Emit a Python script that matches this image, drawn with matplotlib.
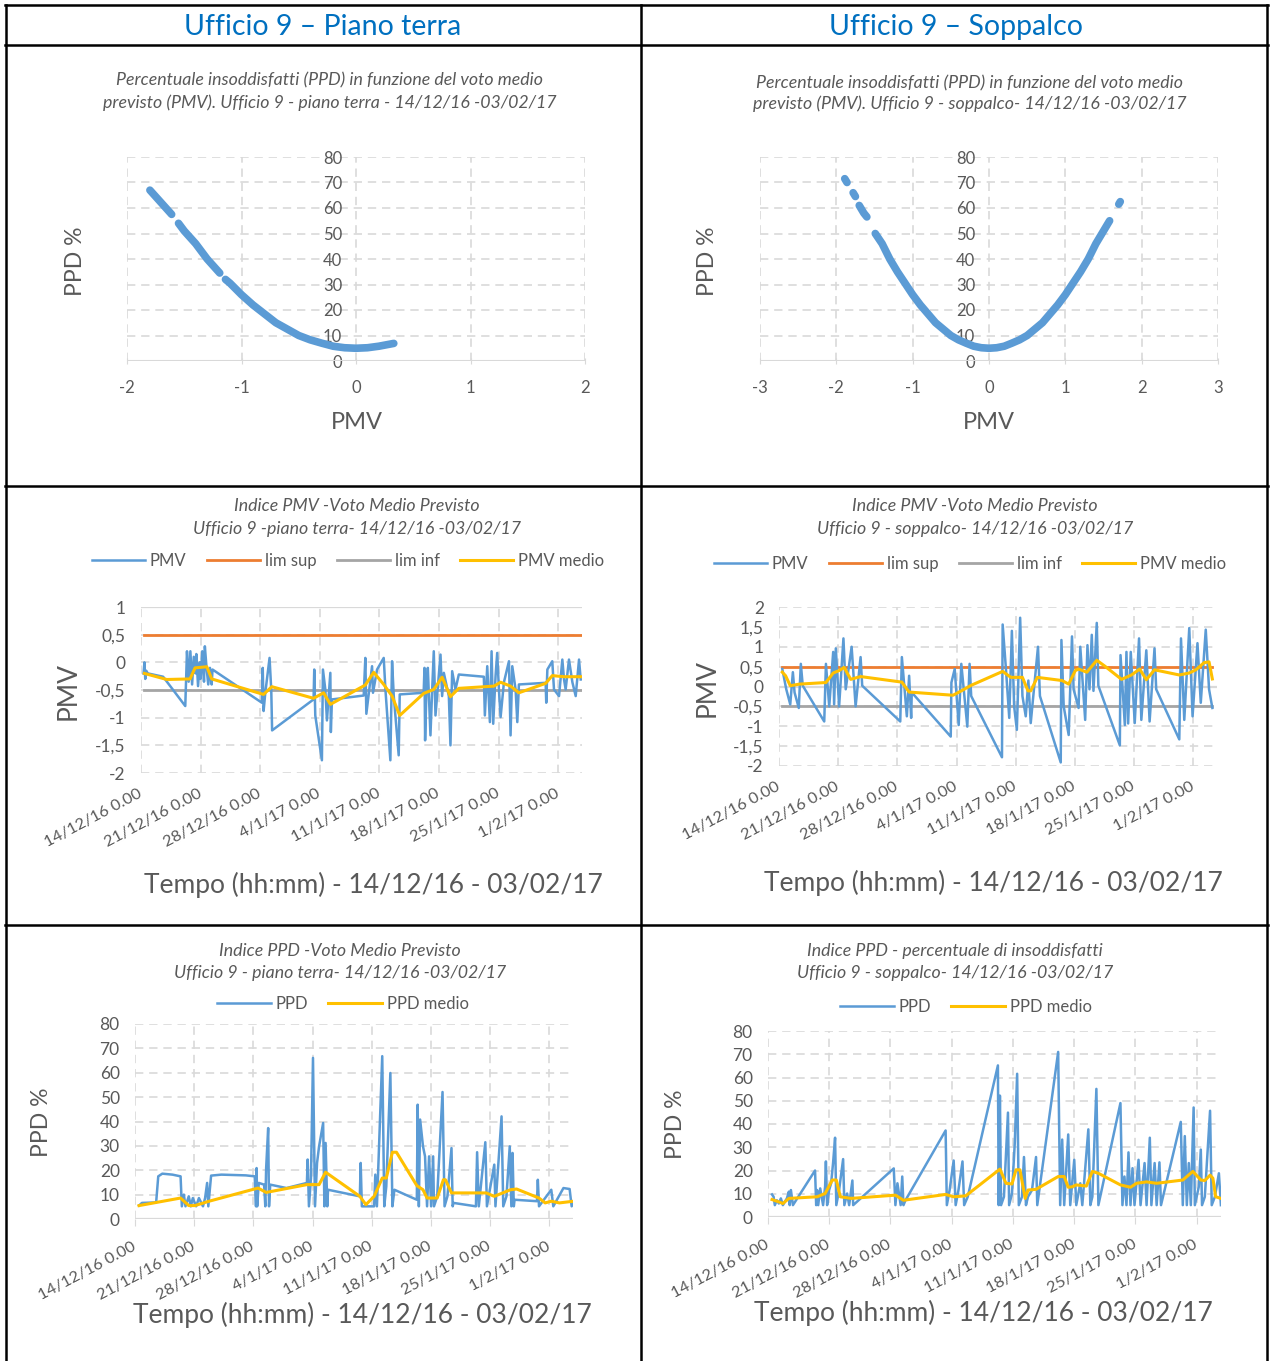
import numpy as np
import matplotlib
matplotlib.use('Agg')
import matplotlib.pyplot as plt
from matplotlib.lines import Line2D

plt.rcParams['font.family'] = ['Lato', 'DejaVu Sans']
plt.rcParams['axes.unicode_minus'] = False

# ---------------- data ----------------
HEADERS = ['Ufficio 9 \u2013 Piano terra', 'Ufficio 9 \u2013 Soppalco']
DATE_LABELS = ['14/12/16 0.00', '21/12/16 0.00', '28/12/16 0.00', '4/1/17 0.00',
               '11/1/17 0.00', '18/1/17 0.00', '25/1/17 0.00', '1/2/17 0.00']
X_DAYS = 51.8          # 14/12/16 -> 03/02/17 (days)
LIM_SUP = 0.5
LIM_INF = -0.5

# PPD vs PMV scatter, segments of (PMV, PPD)
SCAT_PT = [
    [(-1.80, 67), (-1.70, 62), (-1.61, 57.5)],
    [(-1.55, 54), (-1.50, 51), (-1.40, 46), (-1.30, 40), (-1.19, 34.5)],
    [(-1.14, 32), (-1.10, 30.5), (-1.0, 26), (-0.9, 22), (-0.8, 18.5), (-0.7, 15),
     (-0.6, 12.5), (-0.5, 10), (-0.4, 8.3), (-0.3, 7), (-0.2, 5.8), (-0.1, 5.2),
     (0.0, 5), (0.1, 5.2), (0.2, 5.8), (0.33, 6.9)],
]
SCAT_SO = [
    [(-1.89, 71.5), (-1.86, 70)],
    [(-1.78, 66), (-1.75, 64.5)],
    [(-1.70, 61), (-1.64, 58), (-1.60, 56.5)],
    [(-1.49, 50), (-1.4, 46), (-1.3, 40), (-1.2, 35), (-1.1, 30.5), (-1.0, 26),
     (-0.9, 22), (-0.8, 18.5), (-0.7, 15), (-0.6, 12.5), (-0.5, 10), (-0.4, 8.3),
     (-0.3, 7), (-0.2, 5.8), (-0.1, 5.2), (0.0, 5), (0.1, 5.2), (0.2, 5.8),
     (0.3, 7), (0.4, 8.3), (0.5, 10), (0.6, 12.5), (0.7, 15), (0.8, 18.5),
     (0.9, 22), (1.0, 26), (1.1, 30.5), (1.2, 35), (1.3, 40), (1.4, 46),
     (1.5, 51), (1.58, 55)],
    [(1.70, 61.5), (1.72, 62.5)],
]

# PMV piano terra (day, value)
PMV_PT = [
    (0.3, -0.2), (0.4, 0.0), (0.5, -0.3), (0.6, -0.15), (0.8, -0.2), (2.6, -0.26),
    (5.2, -0.79), (5.3, -0.3), (5.4, 0.2), (5.6, -0.35), (5.8, 0.2), (6.0, -0.4),
    (6.2, 0.1), (6.4, -0.2), (6.5, 0.15), (6.7, -0.43), (6.9, 0.0), (7.0, -0.3),
    (7.2, 0.2), (7.4, -0.35), (7.5, 0.29), (7.7, -0.1), (7.9, -0.4), (8.1, -0.1),
    (8.3, -0.4), (8.4, -0.13),
    (14.2, -0.73), (14.3, -0.1), (14.4, -0.88), (14.6, -0.55), (15.1, 0.08),
    (15.3, -0.5), (15.4, -1.23),
    (20.27, -0.67), (20.35, -0.13), (20.47, -0.96), (21.25, -1.77), (21.37, -0.13),
    (21.65, -0.49), (21.84, -1.05), (22.24, -0.19), (22.3, -1.26), (22.43, -0.67),
    (26.16, -0.6), (26.35, 0.08), (26.47, -0.93), (27.14, -0.07), (27.25, -0.55),
    (27.73, -0.13), (28.51, 0.08), (28.71, -0.49), (29.29, -1.77), (29.49, 0.02),
    (29.69, -0.61), (30.27, -1.68), (30.39, -0.58),
    (33.2, -0.55), (33.3, -0.1), (33.37, -1.41), (33.53, -0.49), (33.69, -0.1),
    (34.0, -1.32), (34.2, -0.5), (34.39, 0.2), (34.59, -0.96), (35.18, 0.14),
    (35.37, -0.61), (35.57, -0.19), (36.16, -0.61), (36.35, -1.5), (36.55, -0.16),
    (36.94, -0.49), (37.33, -0.22),
    (40.27, -0.26), (40.39, -0.96), (40.67, -0.07), (40.98, -1.08), (41.18, 0.2),
    (41.37, -1.11), (41.65, -0.24), (41.84, 0.17), (42.04, -0.49), (42.24, -0.99),
    (42.63, -0.36), (43.22, 0.02), (43.41, -1.32), (43.61, -0.07), (44.0, -0.49),
    (44.2, -1.08), (44.39, -0.4),
    (47.53, -0.37), (47.6, -0.73), (47.73, -0.13), (48.31, 0.02), (48.51, -0.49),
    (49.1, -0.61), (49.49, 0.05), (49.69, -0.31), (49.88, -0.49), (50.27, 0.05),
    (50.67, -0.36), (51.06, -0.61), (51.45, 0.05), (51.65, -0.31),
]
PMV_PT_MEDIO = [
    (0.39, -0.20), (3.02, -0.31), (5.76, -0.30), (6.35, -0.10), (7.73, -0.08),
    (8.31, -0.30), (14.39, -0.58), (15.37, -0.44), (20.27, -0.65), (21.45, -0.55),
    (22.24, -0.76), (26.35, -0.41), (27.33, -0.18), (28.51, -0.40), (29.49, -0.61),
    (30.39, -0.96), (33.22, -0.56), (34.39, -0.49), (35.37, -0.27), (36.35, -0.62),
    (37.33, -0.47), (41.45, -0.43), (42.24, -0.36), (43.41, -0.43), (44.39, -0.55),
    (47.53, -0.38), (48.31, -0.24), (49.69, -0.26), (51.84, -0.26),
]

# PMV soppalco (day, value)
PMV_SO = [
    (0.39, 0.44), (0.86, -0.07), (1.33, -0.45), (1.64, 0.36), (1.84, -0.15),
    (2.34, -0.54), (2.58, 0.57), (2.81, 0.02),
    (5.35, -0.88), (5.55, 0.57), (5.94, -0.50), (6.41, 0.87), (6.52, -0.45),
    (6.72, 0.96), (7.11, -0.50), (7.62, 1.21), (7.89, -0.07), (8.59, 1.0),
    (9.06, -0.50), (9.65, 0.74), (9.84, 0.02),
    (14.34, -0.88), (14.53, 0.74), (15.12, -0.75), (15.39, 0.27), (15.63, -0.79),
    (15.70, -0.15),
    (20.31, -1.26), (20.39, 0.10), (20.78, 0.44), (21.25, -0.97), (21.56, 0.57),
    (22.27, -1.01), (22.54, 0.57), (22.73, -0.24),
    (26.37, -1.78), (26.45, 1.56), (26.84, 0.44), (27.23, -0.79), (27.54, 1.40),
    (27.81, -0.50), (28.13, -1.09), (28.52, 1.73), (28.79, -0.24), (29.18, -0.75),
    (29.49, 0.15), (29.77, -0.92), (30.63, 1.0), (30.86, -0.24),
    (33.32, -1.91), (33.40, 1.17), (33.67, -0.50), (34.26, -1.22), (34.65, 1.26),
    (34.84, -0.07), (35.43, -0.54), (35.63, 1.0), (36.21, -0.84), (36.48, 1.04),
    (36.72, -0.07), (36.99, 1.30), (37.19, -0.11), (37.58, 1.60), (37.77, 0.02),
    (40.31, -1.48), (40.39, 0.79), (40.90, -0.97), (41.09, 0.87), (41.29, -0.93),
    (41.60, 0.87), (42.07, -0.92), (42.58, 1.21), (42.85, -0.84), (43.44, 0.91),
    (43.83, -0.88), (44.41, 0.96), (44.61, -0.07),
    (47.34, -1.33), (47.54, 1.21), (47.93, -0.84), (48.52, 1.47), (48.91, -0.75),
    (49.49, 1.09), (49.88, -0.41), (50.47, 1.43), (50.86, -0.07), (51.25, -0.54),
]
PMV_SO_MEDIO = [
    (0.39, 0.36), (0.78, 0.27), (1.33, 0.02), (2.42, 0.06), (5.55, 0.10),
    (6.41, 0.34), (7.11, 0.40), (7.70, 0.48), (8.48, 0.18), (9.65, 0.25),
    (14.53, 0.11), (15.39, -0.14), (20.58, -0.22), (21.56, -0.11), (22.73, 0.03),
    (26.45, 0.38), (27.42, 0.23), (28.79, 0.23), (29.45, -0.11), (29.77, -0.11),
    (30.55, 0.23), (33.48, 0.15), (34.26, 0.06), (35.04, 0.40), (35.43, 0.44),
    (36.41, 0.36), (37.58, 0.66), (38.55, 0.51), (40.51, 0.18), (41.68, 0.29),
    (42.66, 0.44), (43.44, 0.17), (44.41, 0.42), (47.34, 0.29), (48.52, 0.34),
    (49.30, 0.42), (50.27, 0.60), (50.86, 0.62), (51.25, 0.19),
]

# PPD piano terra (day, %)
PPD_PT = [
    (0.48, 5.5), (0.82, 6.6), (2.5, 6.8), (2.75, 17.5), (3.23, 18.6), (4.43, 18.2),
    (5.39, 17.5), (5.54, 5.2), (5.78, 10.0), (5.97, 5.2), (6.36, 9.3), (6.6, 5.2),
    (6.84, 8.6), (7.23, 5.2), (7.56, 8.6), (8.04, 5.2), (8.29, 8.6), (8.53, 14.8),
    (8.67, 5.2), (9.0, 17.8), (10.21, 18.2), (13.1, 17.9), (14.16, 17.5),
    (14.31, 5.2), (14.38, 20.9), (14.45, 5.2), (14.64, 14.8), (15.27, 14.1),
    (15.41, 5.2), (15.51, 20.9), (15.75, 37.3), (15.85, 5.2), (15.99, 14.1),
    (17.92, 12.7), (20.33, 14.8), (20.42, 24.4), (20.57, 5.2), (20.81, 16.8),
    (21.05, 66.1), (21.29, 5.2), (21.53, 23.0), (21.77, 29.8), (22.25, 39.4),
    (22.4, 5.2), (22.54, 31.2), (22.74, 5.2), (22.83, 12.0),
    (26.59, 9.3), (26.69, 23.0), (26.83, 5.2), (27.07, 5.2), (28.28, 5.2),
    (28.42, 18.2), (28.61, 5.2), (29.24, 66.8), (29.48, 5.2), (29.72, 13.4),
    (30.2, 59.9), (30.44, 5.2), (30.68, 12.0),
    (33.33, 7.9), (33.43, 46.9), (33.57, 5.2), (33.72, 40.8), (34.06, 29.8),
    (34.3, 25.7), (34.54, 5.2), (34.78, 25.7), (35.02, 5.2), (35.26, 25.7),
    (35.36, 5.2), (35.74, 9.3), (36.37, 52.1), (36.61, 5.2), (36.95, 9.3),
    (37.43, 29.1), (37.57, 5.2), (37.67, 6.6),
    (40.32, 5.2), (40.46, 27.4), (40.66, 5.2), (41.43, 31.5), (41.62, 5.2),
    (42.49, 22.3), (42.63, 5.2), (43.35, 42.1), (43.55, 5.2), (43.93, 9.3),
    (44.32, 29.8), (44.51, 5.2), (44.65, 27.1), (44.8, 5.2), (44.89, 7.9),
    (47.54, 7.3), (47.64, 16.1), (47.78, 5.2), (49.23, 12.0), (49.47, 5.2),
    (50.67, 12.7), (51.4, 12.3), (51.64, 5.2), (51.88, 6.6),
]
PPD_PT_MEDIO = [
    (0.48, 5.5), (5.39, 8.6), (6.36, 5.5), (7.08, 5.5), (8.77, 7.3), (14.55, 12.7),
    (15.51, 10.9), (20.33, 14.1), (21.77, 14.1), (22.54, 19.2), (26.59, 9.3),
    (27.31, 5.9), (28.28, 9.3), (29.24, 16.8), (29.72, 16.8), (30.44, 27.4),
    (30.92, 27.4), (33.33, 13.7), (34.06, 12.0), (34.54, 8.6), (35.74, 8.6),
    (36.47, 16.1), (36.71, 16.1), (37.43, 10.7), (41.52, 10.7), (42.49, 9.3),
    (44.41, 12.0), (45.13, 12.3), (47.78, 8.6), (48.51, 6.6), (49.23, 7.3),
    (50.19, 6.6), (51.88, 7.3),
]

# PPD soppalco (day, %)
PPD_SO = [
    (0.46, 9.7), (0.64, 8.7), (0.78, 5.1), (1.01, 7.2), (1.24, 5.8), (1.47, 8.0),
    (1.70, 5.1), (2.16, 8.0), (2.39, 10.9), (2.48, 5.1), (2.62, 11.6), (2.85, 5.1),
    (5.38, 20.0), (5.51, 5.1), (5.61, 11.6), (5.74, 5.1), (5.97, 12.3), (6.30, 5.1),
    (6.53, 13.0), (6.62, 23.9), (6.76, 5.1), (6.99, 11.6), (7.22, 14.5), (7.44, 23.2),
    (7.67, 34.1), (7.81, 5.1), (8.13, 11.6), (8.59, 24.9), (8.73, 5.1), (9.05, 10.1),
    (9.28, 5.1), (9.65, 15.7), (9.74, 5.1),
    (14.38, 20.9), (14.57, 5.1), (14.8, 14.5), (15.17, 5.1), (15.35, 17.4),
    (15.49, 5.1), (15.72, 7.2),
    (20.31, 37.2), (20.45, 5.1), (20.77, 11.6), (21.23, 24.3), (21.46, 5.1),
    (21.78, 11.6), (22.24, 23.9), (22.43, 5.1), (22.84, 8.7),
    (26.29, 65.2), (26.38, 5.1), (26.52, 52.2), (26.65, 5.1), (26.98, 8.7),
    (27.44, 44.9), (27.57, 5.1), (27.9, 10.1), (28.22, 31.9), (28.49, 61.6),
    (28.68, 5.1), (29.04, 8.7), (29.27, 25.8), (29.5, 5.1), (29.73, 8.7),
    (30.19, 11.6), (30.65, 25.8), (30.79, 5.1),
    (33.18, 71.0), (33.41, 5.1), (33.64, 33.3), (33.87, 5.1), (34.33, 35.5),
    (34.56, 5.1), (35.02, 24.6), (35.25, 5.1), (35.71, 14.5), (35.94, 5.1),
    (36.63, 37.7), (36.86, 5.1), (37.09, 8.7), (37.55, 55.1), (37.78, 5.1),
    (40.3, 49.0), (40.53, 5.1), (40.76, 17.4), (40.99, 5.1), (41.22, 27.8),
    (41.45, 5.1), (41.68, 21.0), (41.91, 5.1), (42.37, 24.6), (42.6, 5.1),
    (43.06, 23.2), (43.29, 5.1), (43.66, 34.1), (43.84, 5.1), (44.21, 23.2),
    (44.44, 5.1), (44.76, 23.5), (44.94, 5.1),
    (47.2, 40.9), (47.43, 5.1), (47.66, 34.8), (47.89, 5.1), (48.12, 23.2),
    (48.35, 5.1), (48.67, 47.1), (48.81, 5.1), (49.26, 13.0), (49.49, 29.0),
    (49.63, 5.1), (49.95, 8.7), (50.55, 45.7), (50.74, 5.1), (51.1, 8.7),
    (51.56, 18.8), (51.79, 5.1),
]
PPD_SO_MEDIO = [
    (0.46, 7.5), (1.24, 6.5), (1.70, 5.8), (2.39, 8.0), (5.61, 8.7), (6.53, 10.1),
    (7.35, 15.9), (7.81, 15.9), (8.27, 8.7), (9.51, 8.0), (14.57, 9.4), (15.49, 7.2),
    (20.31, 9.7), (21.23, 8.7), (22.61, 9.1), (26.52, 20.6), (27.21, 14.5),
    (27.9, 14.2), (28.36, 20.3), (28.81, 20.3), (29.41, 8.0), (29.73, 11.6),
    (30.65, 11.9), (33.18, 17.4), (33.87, 17.4), (34.33, 12.8), (34.79, 13.0),
    (35.25, 13.8), (36.4, 13.3), (37.09, 19.6), (37.78, 18.8), (40.3, 13.8),
    (41.45, 12.8), (42.14, 14.5), (43.29, 15.1), (44.44, 14.5), (47.43, 15.9),
    (48.58, 19.6), (49.49, 15.9), (49.95, 15.7), (50.55, 18.0), (50.87, 16.7),
    (51.19, 8.7), (51.79, 8.0),
]

# ---------------- style ----------------
BLUE = '#5B9BD5'
ORANGE = '#ED7D31'
GRAY = '#A5A5A5'
YELLOW = '#FFC000'
GRID = '#D9D9D9'
TXT = '#595959'
HEAD = '#0070C0'
DASH = (0, (5, 3.5))

W, H = 1270, 1361
fig = plt.figure(figsize=(W / 100, H / 100), dpi=100)


def box(x0, y0, x1, y1):
    return fig.add_axes([x0 / W, 1 - y1 / H, (x1 - x0) / W, (y1 - y0) / H])


def ftext(x, y, s, **kw):
    kw.setdefault('ha', 'center')
    kw.setdefault('va', 'center')
    fig.text(x / W, 1 - y / H, s, **kw)


def hline(y, x0, x1):
    fig.add_artist(Line2D([x0 / W, x1 / W], [1 - y / H, 1 - y / H], color='black',
                          lw=1.8, transform=fig.transFigure))


def vline(x, y0, y1):
    fig.add_artist(Line2D([x / W, x / W], [1 - y0 / H, 1 - y1 / H], color='black',
                          lw=1.8, transform=fig.transFigure))


def fmt(v):
    if abs(v - round(v)) < 1e-9:
        return str(int(round(v)))
    return ('%g' % v).replace('.', ',')


def title2(cx, y1, y2, l1, l2):
    ftext(cx, y1, l1, fontsize=12.8, style='italic', color=TXT)
    ftext(cx, y2, l2, fontsize=12.8, style='italic', color=TXT)


# table
hline(5, 5, 1268)
hline(45, 5, 1268)
hline(486, 5, 1268)
hline(925, 5, 1268)
vline(6, 5, 1361)
vline(641, 5, 1361)
vline(1267, 5, 1361)

ftext(323, 27, HEADERS[0], fontsize=20.5, color=HEAD)
ftext(956, 27, HEADERS[1], fontsize=20.5, color=HEAD)


# ---------------- scatter PPD vs PMV ----------------
def scatter_panel(box_px, xr, segs, cx, ty1, ty2, l1, l2, ylab_xy, xlab_xy):
    ax = box(*box_px)
    for seg in segs:
        xs = [p[0] for p in seg]
        ys = [p[1] for p in seg]
        ax.plot(xs, ys, color=BLUE, lw=5.5, solid_capstyle='round', zorder=3)
    ax.set_xlim(xr[0], xr[1])
    ax.set_ylim(0, 80)
    ax.set_xticks(np.arange(xr[0], xr[1] + 1))
    ax.set_yticks(np.arange(0, 81, 10))
    for s in ax.spines.values():
        s.set_visible(False)
    ax.spines['left'].set_position(('data', 0))
    ax.grid(True, color=GRID, ls=DASH, lw=1.2)
    ax.axhline(0, color=GRID, lw=1.5, zorder=2)
    ax.tick_params(axis='y', length=0, labelsize=12, labelcolor=TXT, pad=10)
    ax.tick_params(axis='x', length=5, color=GRID, labelsize=12, labelcolor=TXT,
                   pad=11, direction='inout')
    ax.set_axisbelow(True)
    title2(cx, ty1, ty2, l1, l2)
    ftext(*ylab_xy, 'PPD %', fontsize=16.5, color=TXT, rotation=90)
    ftext(*xlab_xy, 'PMV', fontsize=17, color=TXT)


L1 = 'Percentuale insoddisfatti (PPD) in funzione del voto medio'
scatter_panel((127, 157, 585, 361), (-2, 2), SCAT_PT, 330, 80, 103, L1,
              'previsto (PMV). Ufficio 9 - piano terra - 14/12/16 -03/02/17',
              (75, 261), (357, 422))
scatter_panel((760, 157, 1218, 361), (-3, 3), SCAT_SO, 970, 83, 104, L1,
              'previsto (PMV). Ufficio 9 - soppalco- 14/12/16 -03/02/17',
              (708, 261), (989, 422))


# ---------------- time series ----------------
def ts_axes(box_px, ylim, ystep, axis_y, tick_len):
    ax = box(*box_px)
    ax.set_xlim(0, X_DAYS)
    ax.set_ylim(*ylim)
    ax.set_xticks(np.arange(len(DATE_LABELS)) * 7)
    ax.set_xticklabels(DATE_LABELS, rotation=28, ha='right', va='center',
                       rotation_mode='anchor')
    yt = np.arange(ylim[0], ylim[1] + ystep / 2, ystep)
    ax.set_yticks(yt)
    ax.set_yticklabels([fmt(v) for v in yt])
    for s in ax.spines.values():
        s.set_visible(False)
    ax.grid(True, color=GRID, ls=DASH, lw=1.2)
    ax.axhline(axis_y, color=GRID, lw=1.6, zorder=1)
    ax.tick_params(axis='y', length=0, labelsize=12.5, labelcolor=TXT, pad=11)
    ax.tick_params(axis='x', length=tick_len, color=GRID, labelsize=11.8,
                   labelcolor=TXT, pad=14)
    ax.set_axisbelow(True)
    return ax


def series(ax, data, color, label, lw=1.8, zorder=3):
    ax.plot([p[0] for p in data], [p[1] for p in data], color=color, lw=lw,
            label=label, zorder=zorder)


def legend(ax, cx, cy, ncol):
    ax.legend(loc='center', bbox_to_anchor=(cx / W, 1 - cy / H),
              bbox_transform=fig.transFigure, ncol=ncol, frameon=False,
              fontsize=12, labelcolor=TXT, handlelength=3.2,
              handletextpad=0.3, columnspacing=1.2)


TEMPO = 'Tempo (hh:mm) - 14/12/16 - 03/02/17'


def pmv_panel(box_px, ylim, axis_y, pmv, medio, cx, ty, l2, leg_xy, ylab_xy,
              xlab_xy):
    ax = ts_axes(box_px, ylim, 0.5, axis_y, 0)
    series(ax, pmv, BLUE, 'PMV')
    t0, t1 = pmv[0][0], pmv[-1][0]
    ax.plot([t0, t1], [LIM_SUP, LIM_SUP], color=ORANGE, lw=2, label='lim sup')
    ax.plot([t0, t1], [LIM_INF, LIM_INF], color=GRAY, lw=2, label='lim inf')
    series(ax, medio, YELLOW, 'PMV medio', lw=2.2, zorder=4)
    title2(cx, ty, ty + 23, 'Indice PMV -Voto Medio Previsto', l2)
    legend(ax, *leg_xy, 4)
    ftext(*ylab_xy, 'PMV', fontsize=19, color=TXT, rotation=90)
    ftext(*xlab_xy, TEMPO, fontsize=19, color=TXT)


pmv_panel((141, 607, 582, 773), (-2, 1), 1, PMV_PT, PMV_PT_MEDIO, 357, 506,
          'Ufficio 9 -piano terra- 14/12/16 -03/02/17', (348, 561), (68, 691),
          (373, 885))
pmv_panel((779, 607, 1217, 766), (-2, 2), 0, PMV_SO, PMV_SO_MEDIO, 975, 506,
          'Ufficio 9 - soppalco- 14/12/16 -03/02/17', (970, 564), (707, 688),
          (993, 883))


def ppd_panel(box_px, ppd, medio, cx, ty, l1, l2, leg_xy, ylab_xy, xlab_xy):
    ax = ts_axes(box_px, (0, 80), 10, 0, 5)
    series(ax, ppd, BLUE, 'PPD')
    series(ax, medio, YELLOW, 'PPD medio', lw=2.2, zorder=4)
    title2(cx, ty, ty + 22, l1, l2)
    legend(ax, *leg_xy, 2)
    ftext(*ylab_xy, 'PPD %', fontsize=16.5, color=TXT, rotation=90)
    ftext(*xlab_xy, TEMPO, fontsize=19, color=TXT)


ppd_panel((135, 1024, 573, 1219), PPD_PT, PPD_PT_MEDIO, 340, 951,
          'Indice PPD -Voto Medio Previsto',
          'Ufficio 9 - piano terra- 14/12/16 -03/02/17', (343, 1004), (42, 1122),
          (362, 1315))
ppd_panel((768, 1031, 1221, 1217), PPD_SO, PPD_SO_MEDIO, 955, 951,
          'Indice PPD - percentuale di insoddisfatti',
          'Ufficio 9 - soppalco- 14/12/16 -03/02/17', (966, 1007), (676, 1124),
          (983, 1313))

fig.savefig('out.png', dpi=100)
